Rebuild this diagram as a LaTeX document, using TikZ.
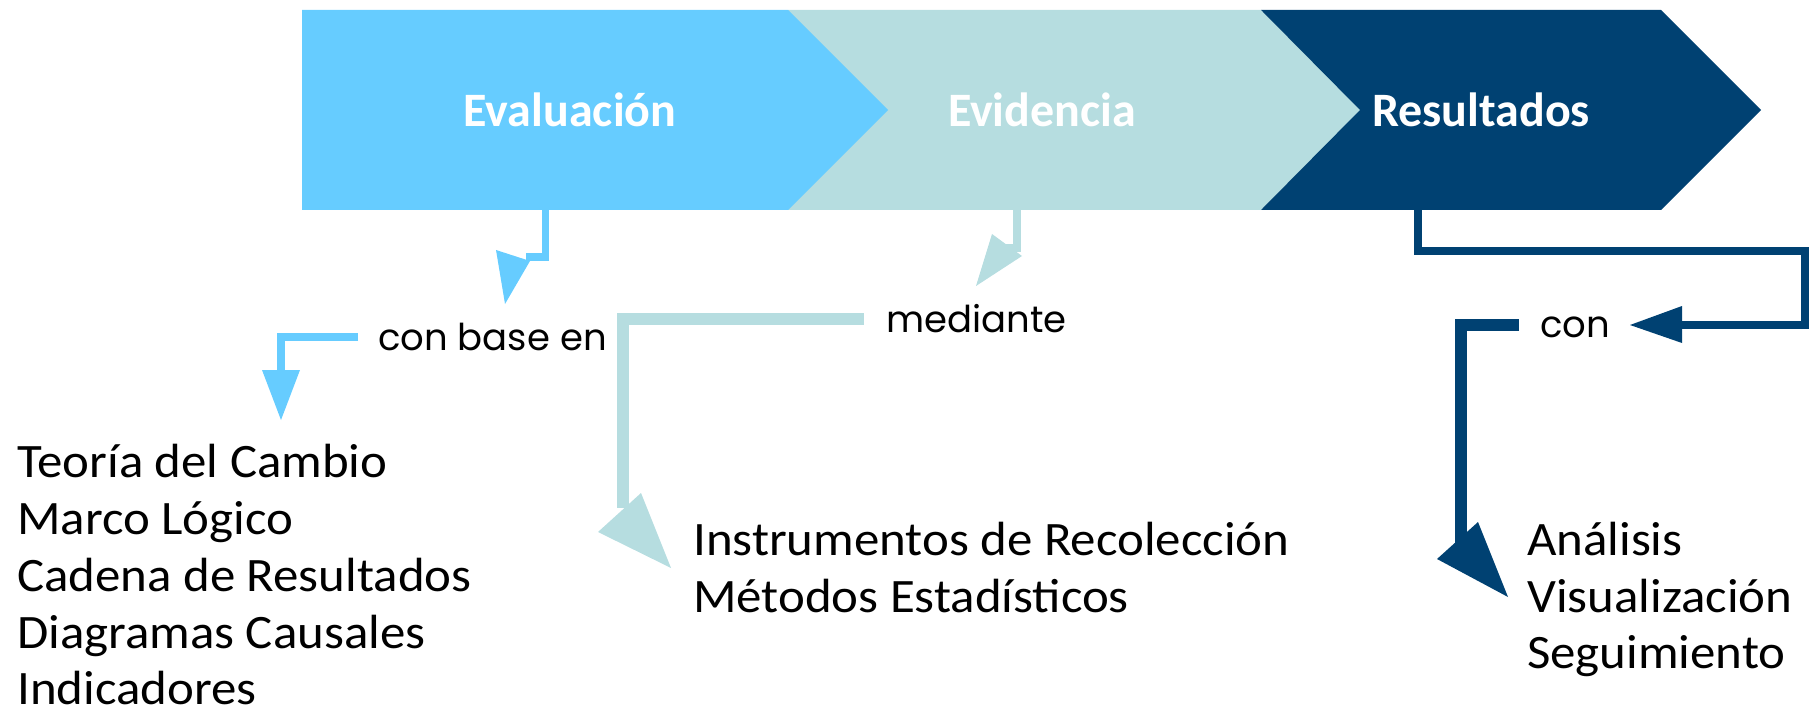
\documentclass[tikz,border=0pt]{standalone}
\usepackage{fontspec}
\setmainfont{Carlito}
\newfontfamily\popp{Poppins}
\newfontfamily\listfont[FakeStretch=1.06]{Carlito}
\definecolor{cEval}{HTML}{66CCFF}
\definecolor{cEvid}{HTML}{B6DDE0}
\definecolor{cRes}{HTML}{004172}
\tikzset{
  chevlabel/.style={text=white, inner sep=0pt, anchor=base, font=\fontsize{48}{48}\selectfont\bfseries},
  linklabel/.style={text=black, inner sep=0pt, anchor=base west, font=\popp\fontsize{37}{37}\selectfont},
  item/.style={text=black, inner sep=0pt, anchor=base west, font=\listfont\fontsize{48}{48}\selectfont},
  conn/.style={line join=miter, line cap=butt}
}
\begin{document}
\begin{tikzpicture}[x=1pt,y=-1pt]
\useasboundingbox (0,0) rectangle (1809,711);
% chevrons
\fill[cEvid] (788,10) -- (1261,10) -- (1360,110) -- (1261,210) -- (788,210) -- cycle;
\fill[cEval] (302,10) -- (788,10) -- (888,110) -- (788,210) -- (302,210) -- cycle;
\fill[cRes] (1261,10) -- (1661,10) -- (1761,110) -- (1661,210) -- (1261,210) -- (1360,110) -- cycle;
\node[chevlabel] (eval) at (570,127) {Evaluación};
\node[chevlabel] (evid) at (1042,127) {Evidencia};
\node[chevlabel] (res) at (1481,127) {Resultados};
\coordinate (evalB) at (545.5,210);
\coordinate (evidB) at (1017,210);
\coordinate (resB) at (1418,210);
% link labels
\node[linklabel] (cbe) at (378,350) {con base en};
\node[linklabel] (med) at (886,332) {mediante};
\node[linklabel] (con) at (1540,337) {con};
% lists
\node[item] (l1) at (17,477) {Teoría del Cambio};
\node[item] (l2) at (17,534) {Marco Lógico};
\node[item] (l3) at (17,591) {Cadena de Resultados};
\node[item] (l4) at (17,648) {Diagramas Causales};
\node[item] (l5) at (17,704) {Indicadores};
\node[item] (m1) at (693,555) {Instrumentos de Recolección};
\node[item] (m2) at (693,612) {Métodos Estadísticos};
\node[item] (r1) at (1527,555) {Análisis};
\node[item] (r2) at (1527,612) {Visualización};
\node[item] (r3) at (1527,668) {Seguimiento};
% connector Evaluacion -> con base en
\draw[conn, cEval, line width=7.5pt] (evalB) -- (545.5,257) -- (526,257);
\fill[cEval] (496,250) -- (530,261) -- (505,304) -- cycle;
% con base en -> list
\draw[conn, cEval, line width=8pt] (cbe.west |- 0,337) ++(-20,0) coordinate (c1s) -- (281,337) -- (281,372);
\fill[cEval] (262,370) -- (300,370) -- (281,420) -- cycle;
% Evidencia -> mediante
\draw[conn, cEvid, line width=8pt] (evidB) -- (1017,248) -- (1003,248);
\fill[cEvid] (992,234) -- (1022,256) -- (976,286) -- cycle;
% mediante -> list
\draw[conn, cEvid, line width=12pt] (med.west |- 0,319) ++(-22,0) coordinate (m1s) -- (623,319) -- (623,508);
\fill[cEvid] (598,532) -- (641,493) -- (671,568) -- cycle;
% Resultados -> con
\draw[conn, cRes, line width=8pt] (resB) -- (1418,251) -- (1805,251) -- (1805,325) -- (1680,325);
\fill[cRes] (1682,306) -- (1682,343) -- (1630,325) -- cycle;
% con -> list
\draw[conn, cRes, line width=12pt] (con.west |- 0,324.5) ++(-21,0) coordinate (k1s) -- (1461,324.5) -- (1461,548);
\fill[cRes] (1437,559) -- (1478,522) -- (1508,597) -- cycle;
\end{tikzpicture}
\end{document}
